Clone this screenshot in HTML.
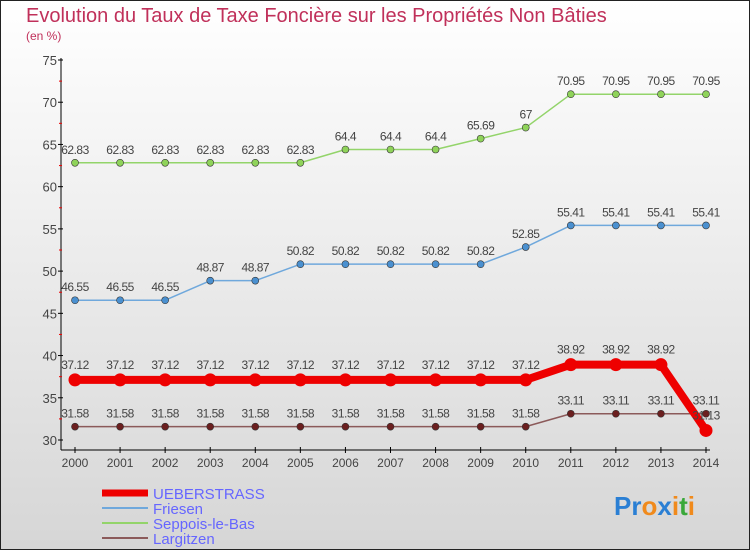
<!DOCTYPE html>
<html><head><meta charset="utf-8"><style>
body{margin:0}
#c{width:750px;height:550px;position:relative;overflow:hidden}
text{font-family:"Liberation Sans",sans-serif}
</style></head><body>
<div id="c">
<svg id="s" width="750" height="550" xmlns="http://www.w3.org/2000/svg">
<defs><linearGradient id="bg" x1="0" y1="0" x2="0" y2="1"><stop offset="0" stop-color="#ffffff"/><stop offset="1" stop-color="#d6d6d6"/></linearGradient></defs>
<rect x="0.5" y="0.5" width="749" height="549" fill="url(#bg)" stroke="#222"/>
<text x="26" y="22" font-size="20" fill="#c0305a">Evolution du Taux de Taxe Foncière sur les Propriétés Non Bâties</text>
<text x="26" y="40" font-size="12" fill="#c0305a">(en %)</text>
<g id="axes"></g><g id="series"></g>
<g>
<line x1="102" y1="493" x2="148" y2="493" stroke="#ee0000" stroke-width="7"/>
<text x="153" y="499" font-size="15" fill="#6666ff">UEBERSTRASS</text>
<line x1="102" y1="508" x2="148" y2="508" stroke="#6fa8dc" stroke-width="2"/>
<text x="153" y="514" font-size="15" fill="#6666ff">Friesen</text>
<line x1="102" y1="523" x2="148" y2="523" stroke="#93d46a" stroke-width="2"/>
<text x="153" y="529" font-size="15" fill="#6666ff">Seppois-le-Bas</text>
<line x1="102" y1="538" x2="148" y2="538" stroke="#8b5a5a" stroke-width="2"/>
<text x="153" y="544" font-size="15" fill="#6666ff">Largitzen</text>
</g>
<text x="614" y="515" font-size="26" font-weight="bold"><tspan fill="#2a7fd4">Pr</tspan><tspan fill="#f08a1c">o</tspan><tspan fill="#2a7fd4">x</tspan><tspan fill="#f08a1c">i</tspan><tspan fill="#3aa83a">t</tspan><tspan fill="#f08a1c">i</tspan></text>
</svg></div>
<script>
const years=[2000,2001,2002,2003,2004,2005,2006,2007,2008,2009,2010,2011,2012,2013,2014];
const yTicks=[30,35,40,45,50,55,60,65,70,75];
const ueberstrass=[37.12,37.12,37.12,37.12,37.12,37.12,37.12,37.12,37.12,37.12,37.12,38.92,38.92,38.92,31.13];
const friesen=[46.55,46.55,46.55,48.87,48.87,50.82,50.82,50.82,50.82,50.82,52.85,55.41,55.41,55.41,55.41];
const seppois=[62.83,62.83,62.83,62.83,62.83,62.83,64.4,64.4,64.4,65.69,67,70.95,70.95,70.95,70.95];
const largitzen=[31.58,31.58,31.58,31.58,31.58,31.58,31.58,31.58,31.58,31.58,31.58,33.11,33.11,33.11,33.11];
const NS="http://www.w3.org/2000/svg";
const X=i=>75+i*(706-75)/(years.length-1);
const Y=v=>440-(v-30)*(380/45);
function mk(t,a,p){const e=document.createElementNS(NS,t);for(const k in a)e.setAttribute(k,a[k]);p.appendChild(e);return e;}
const ax=document.getElementById('axes');
const yl=mk('line',{x1:61,y1:58,x2:61,y2:450,stroke:'#000'},ax);


const xl=mk('line',{x1:61,y1:450,x2:710,y2:450,stroke:'#000'},ax);


yTicks.forEach(v=>{mk('line',{x1:58,y1:Y(v),x2:63,y2:Y(v),stroke:'#000'},ax);
 if(v<75)mk('line',{x1:59,y1:Y(v+2.5),x2:62,y2:Y(v+2.5),stroke:'#e00'},ax);
 const t=mk('text',{x:57,y:Y(v)+5,'font-size':13,fill:'#444','text-anchor':'end'},ax);t.textContent=v;
 
 });
years.forEach((yr,i)=>{mk('line',{x1:X(i),y1:447,x2:X(i),y2:453,stroke:'#000'},ax);
 const t=mk('text',{x:X(i),y:467,'font-size':12,fill:'#444','text-anchor':'middle'},ax);t.textContent=yr;
 
 });
const sg=document.getElementById('series');
function draw(vals,name,col,w,r,dot,lblDy){
 const g=mk('g',{},sg);
 
 
 mk('polyline',{points:vals.map((v,i)=>X(i)+','+Y(v)).join(' '),fill:'none',stroke:col,'stroke-width':w,'stroke-linejoin':'round'},g);
 vals.forEach((v,i)=>{const c=mk('circle',{cx:X(i),cy:Y(v),r:r,fill:dot,stroke:'#333','stroke-width':r>5?0:0.6},g);
  
  
  const t=mk('text',{x:X(i),y:Y(v)+lblDy,'font-size':12,fill:'#444','text-anchor':'middle','letter-spacing':'-0.5'},g);t.textContent=v;
  
  });
}
draw(seppois,'seppois-series','#93d46a',1.5,3.5,'#8fd35a',-9);
draw(friesen,'friesen-series','#6fa8dc',1.5,3.5,'#4a90d0',-9);
draw(largitzen,'largitzen-series','#8b5a5a',1.5,3.5,'#6b1f1f',-9);
draw(ueberstrass,'ueberstrass-series','#ee0000',8,6.5,'#ee0000',-11);
</script>
</body></html>
